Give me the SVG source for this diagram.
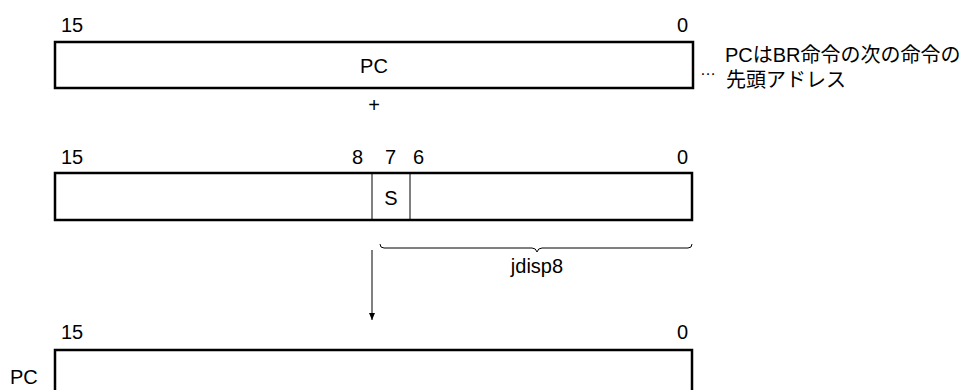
<svg xmlns="http://www.w3.org/2000/svg" width="979" height="390" viewBox="0 0 979 390">
<defs>
<style>
.t{font-family:"Liberation Sans","Noto Sans CJK JP",Arial,sans-serif;font-size:20px;fill:#000}
.box{fill:#fff;stroke:#000;stroke-width:2.5}
.thin{fill:none;stroke:#000;stroke-width:1}
</style>
<marker id="ah" markerWidth="8" markerHeight="14" refX="7" refY="7" orient="auto" markerUnits="userSpaceOnUse" viewBox="0 0 8 14">
<path d="M0,4 L7,7 L0,10 Z" fill="#000"/>
</marker>
</defs>
<rect width="979" height="390" fill="#fff"/>
<g id="reg-pc-top">
<text class="t" x="61" y="32">15</text>
<text class="t" x="688" y="32" text-anchor="end">0</text>
<rect class="box" x="55" y="42" width="638" height="46"/>
<text class="t" x="374" y="73" text-anchor="middle">PC</text>
</g>
<g id="note">
<text class="t" x="725" y="62">PCはBR命令の次の命令の</text>
<text class="t" style="font-size:16px" x="700" y="75">…</text>
<text class="t" x="726" y="87">先頭アドレス</text>
</g>
<g id="plus">
<text class="t" x="374" y="112" text-anchor="middle">+</text>
</g>
<g id="reg-disp">
<text class="t" x="61" y="164">15</text>
<text class="t" x="363" y="164" text-anchor="end">8</text>
<text class="t" x="385" y="164">7</text>
<text class="t" x="413" y="164">6</text>
<text class="t" x="688" y="164" text-anchor="end">0</text>
<rect class="box" x="55" y="173" width="637" height="47"/>
<line class="thin" x1="372" y1="173" x2="372" y2="220"/>
<line class="thin" x1="410" y1="173" x2="410" y2="220"/>
<text class="t" x="391" y="205" text-anchor="middle">S</text>
</g>
<g id="brace">
<path class="thin" d="M380,244 Q380,248 384,248 L532,248 Q536,248 537,252 Q538,248 542,248 L688,248 Q692,248 692,244"/>
<text class="t" x="537" y="273" text-anchor="middle">jdisp8</text>
</g>
<g id="reg-pc-bottom">
<text class="t" x="61" y="339">15</text>
<text class="t" x="688" y="339" text-anchor="end">0</text>
<rect class="box" x="55" y="350" width="637" height="60"/>
<text class="t" x="10" y="384">PC</text>
</g>
<g id="connectors">
<line class="thin" x1="372" y1="250" x2="372" y2="320" marker-end="url(#ah)"/>
</g>
</svg>
